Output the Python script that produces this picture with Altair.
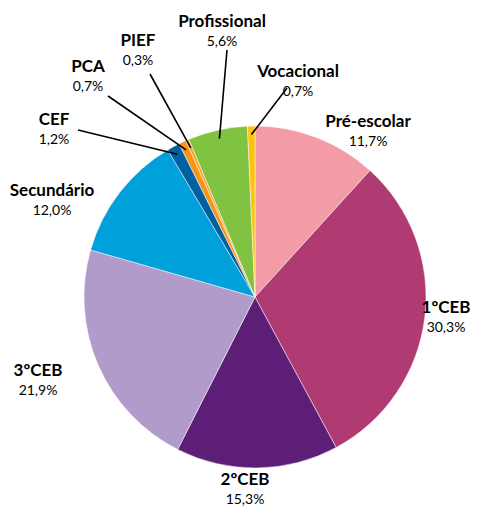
import math
import altair as alt
import pandas as pd

categories = ["Pré-escolar", "1ºCEB", "2ºCEB", "3ºCEB", "Secundário",
              "CEF", "PCA", "PIEF", "Profissional", "Vocacional"]
values = [11.7, 30.3, 15.3, 21.9, 12.0, 1.2, 0.7, 0.3, 5.6, 0.7]
pct_labels = ["11,7%", "30,3%", "15,3%", "21,9%", "12,0%",
              "1,2%", "0,7%", "0,3%", "5,6%", "0,7%"]
colors = ["#F39CA5", "#B03A72", "#5D1E78", "#B19BCA", "#00A0DB",
          "#0060A0", "#F7941D", "#F9A51E", "#80C242", "#FFC20E"]

# layout (pixels, view coordinates)
CX, CY, R = 247, 289, 171
label_offsets = {  # block centre relative to pie centre
    "Pré-escolar": (113, -165), "1ºCEB": (191, 21), "2ºCEB": (-10, 193),
    "3ºCEB": (-217, 84), "Secundário": (-203, -96), "CEF": (-201, -167),
    "PCA": (-167, -220), "PIEF": (-117, -246), "Profissional": (-33, -265),
    "Vocacional": (43, -215),
}
leader_start = {  # start of leader line relative to pie centre
    "CEF": (-177, -167), "PCA": (-147, -201), "PIEF": (-105, -223),
    "Profissional": (-28, -247), "Vocacional": (32, -209),
}

total = sum(values)
rows = []
cum = 0.0
for i, (c, v, p) in enumerate(zip(categories, values, pct_labels)):
    mid = (cum + v / 2) / total * 2 * math.pi
    cum += v
    dx, dy = label_offsets[c]
    rows.append(dict(idx=i, cat=c, value=v, pct=p,
                     nx=CX + dx, ny=CY + dy - 10,
                     px=CX + dx, py=CY + dy + 10,
                     mid=mid))
df = pd.DataFrame(rows)

lines = []
for r in rows:
    if r["cat"] in leader_start:
        sx, sy = leader_start[r["cat"]]
        rr = R * 0.95
        lines.append(dict(cat=r["cat"], x1=CX + sx, y1=CY + sy,
                          x2=CX + rr * math.sin(r["mid"]),
                          y2=CY - rr * math.cos(r["mid"])))
ldf = pd.DataFrame(lines)

base = alt.Chart(df)
pie = base.mark_arc(outerRadius=R, stroke="white", strokeWidth=0.5).encode(
    theta=alt.Theta("value:Q", stack=True),
    order=alt.Order("idx:Q"),
    color=alt.Color("cat:N", scale=alt.Scale(domain=categories, range=colors), legend=None),
    x=alt.value(CX), y=alt.value(CY),
)
rules = alt.Chart(ldf).mark_rule(color="black", strokeWidth=1.6).encode(
    x=alt.X("x1:Q", scale=None), y=alt.Y("y1:Q", scale=None),
    x2="x2:Q", y2="y2:Q",
)
names = base.mark_text(font="Lato", fontSize=17, fontWeight="bold", color="#000000",
                       align="center", baseline="middle").encode(
    x=alt.X("nx:Q", scale=None), y=alt.Y("ny:Q", scale=None), text="cat:N")
pcts = base.mark_text(font="Lato", fontSize=14, color="#000000",
                      align="center", baseline="middle").encode(
    x=alt.X("px:Q", scale=None), y=alt.Y("py:Q", scale=None), text="pct:N")

chart = alt.layer(pie, rules, names, pcts).properties(
    width=465, height=502, autosize=alt.AutoSizeParams(type="none"), padding=0
).configure_view(stroke=None, clip=False)

chart.save("out.html", embed_options={"renderer": "svg", "actions": False})
